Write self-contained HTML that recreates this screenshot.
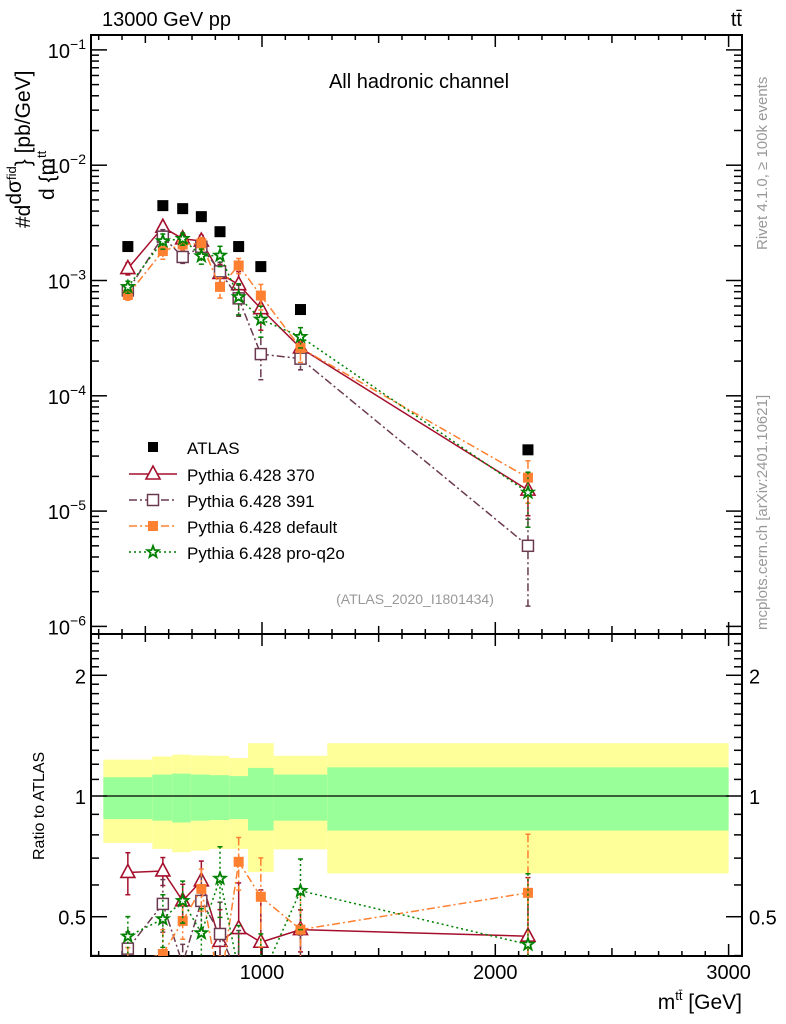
<!DOCTYPE html>
<html><head><meta charset="utf-8"><style>
html,body{margin:0;padding:0;background:#fff;width:786px;height:1024px;overflow:hidden;}
svg{display:block;font-family:"Liberation Sans",sans-serif;}
</style></head><body>
<svg id="c" width="786" height="1024" viewBox="0 0 786 1024">
<text x="102" y="26" font-size="20">13000 GeV pp</text>
<text x="742" y="26" font-size="20" text-anchor="end">tt̄</text>
<text x="419" y="88" font-size="20" text-anchor="middle">All hadronic channel</text>
<text x="415" y="604" font-size="14" fill="#999" text-anchor="middle">(ATLAS_2020_I1801434)</text>
<text transform="translate(767,250) rotate(-90)" font-size="15" fill="#999">Rivet 4.1.0, ≥ 100k events</text>
<text transform="translate(767,630) rotate(-90)" font-size="15" fill="#999">mcplots.cern.ch [arXiv:2401.10621]</text>
<text transform="translate(30,228) rotate(-90)" font-size="21">#d<tspan dy="-9">dσ<tspan font-size="13" dy="-5">fid</tspan></tspan><tspan dy="14">} [pb/GeV]</tspan></text>
<text transform="translate(54,200) rotate(-90)" font-size="21">d {m<tspan font-size="13" dy="-8">tt</tspan></text>
<text transform="translate(44,860) rotate(-90)" font-size="16">Ratio to ATLAS</text>
<text x="742" y="1009" font-size="21" text-anchor="end">m<tspan font-size="13" dy="-9">tt̄</tspan><tspan dy="9"> [GeV]</tspan></text>
</svg>
<script>
const binEdges=[320,530,615,695,775,860,940,1050,1280,3000];
const xCenters=[425,575,660,740,820,900,995,1165,2140];
const atlas=[1.97e-3,4.46e-3,4.2e-3,3.58e-3,2.65e-3,1.97e-3,1.32e-3,5.6e-4,3.4e-5];
const p370=[1.27e-3,2.9e-3,2.3e-3,2.2e-3,1.15e-3,9.2e-4,5.7e-4,2.6e-4,1.52e-5];
const p391=[8.2e-4,2.4e-3,1.6e-3,1.96e-3,1.2e-3,7e-4,2.3e-4,2.1e-4,5e-6];
const pdef=[7.5e-4,1.8e-3,2.05e-3,2.1e-3,8.8e-4,1.35e-3,7.4e-4,2.6e-4,1.95e-5];
const pq2o=[8.8e-4,2.2e-3,2.3e-3,1.63e-3,1.65e-3,7.2e-4,4.6e-4,3.25e-4,1.45e-5];
const e370=[0.12,0.08,0.1,0.12,0.2,0.3,0.35,0.12,0.4];
const e391=[0.1,0.15,0.12,0.15,0.2,0.3,0.4,0.2,0.7];
const edef=[0.1,0.15,0.1,0.12,0.2,0.15,0.25,0.25,0.4];
const eq2o=[0.12,0.15,0.12,0.15,0.2,0.3,0.3,0.2,0.5];
const yelUp=[1.232,1.255,1.268,1.262,1.26,1.243,1.354,1.26,1.354];
const grnUp=[1.114,1.131,1.137,1.131,1.127,1.121,1.175,1.131,1.179];
const grnLo=[0.876,0.868,0.859,0.868,0.871,0.876,0.82,0.868,0.82];
const yelLo=[0.764,0.738,0.724,0.731,0.738,0.738,0.646,0.736,0.641];
const mainTicks=["10","10","10","10","10","10"];
const mainExp=[-1,-2,-3,-4,-5,-6];
const xTickLabels=[1000,2000,3000];
const ratioTicks=[0.5,1,2];

const NS="http://www.w3.org/2000/svg";
const svg=document.getElementById('c');
const L=91,R=742,T=35,MB=634,RB=956;
const X=v=>262+(v-1000)*0.2333;
const Y=v=>280.5-115.3*Math.log10(v/1e-3);
const RY=r=>796-401*Math.log10(r);
function el(tag,attrs,parent){const e=document.createElementNS(NS,tag);for(const k in attrs)e.setAttribute(k,attrs[k]);(parent||svg).appendChild(e);return e;}
function txt(s,x,y,attrs,parent){const e=el('text',Object.assign({x:x,y:y,'font-size':18},attrs||{}),parent);e.textContent=s;return e;}
function clipSeg(x1,y1,x2,y2,ymin,ymax){
  if((y1<ymin&&y2<ymin)||(y1>ymax&&y2>ymax))return null;
  const f=(yt)=>x1+(x2-x1)*(yt-y1)/(y2-y1);
  if(y1<ymin){x1=f(ymin);y1=ymin;} else if(y1>ymax){x1=f(ymax);y1=ymax;}
  if(y2<ymin){x2=x1+(x2-x1)*0+((x2-x1));}
  return [x1,y1,x2,y2];
}
function clipLine(x1,y1,x2,y2,ymin,ymax){
  if((y1<ymin&&y2<ymin)||(y1>ymax&&y2>ymax))return null;
  const ix=(yt)=>x1+(x2-x1)*(yt-y1)/(y2-y1);
  let a=[x1,y1],b=[x2,y2];
  if(y1<ymin)a=[ix(ymin),ymin]; else if(y1>ymax)a=[ix(ymax),ymax];
  if(y2<ymin)b=[ix(ymin),ymin]; else if(y2>ymax)b=[ix(ymax),ymax];
  return [a[0],a[1],b[0],b[1]];
}

const defs=el('defs',{});
const cm=el('clipPath',{id:'cm'},defs);el('rect',{x:L,y:T,width:R-L,height:MB-T},cm);
const cr=el('clipPath',{id:'cr'},defs);el('rect',{x:L,y:MB,width:R-L,height:RB-MB},cr);

const gb=el('g',{'clip-path':'url(#cr)'});

for(let i=0;i<xCenters.length;i++){
  const x0=X(binEdges[i]),x1=X(binEdges[i+1]);
  const r1=el('rect',{x:x0,y:RY(yelUp[i]),width:x1-x0,height:RY(yelLo[i])-RY(yelUp[i]),fill:'#ffff99'},gb);
  
  const r2=el('rect',{x:x0,y:RY(grnUp[i]),width:x1-x0,height:RY(grnLo[i])-RY(grnUp[i]),fill:'#99ff99'},gb);
  
}
el('line',{x1:X(320),x2:X(3000),y1:RY(1),y2:RY(1),stroke:'#000','stroke-width':1.2},gb);

el('rect',{x:L,y:T,width:R-L,height:MB-T,fill:'none',stroke:'#000','stroke-width':2});
el('rect',{x:L,y:MB,width:R-L,height:RB-MB,fill:'none',stroke:'#000','stroke-width':2});

const tg=el('g',{stroke:'#000','stroke-width':1.5});
for(let v=300;v<=3000;v+=100){
  const x=X(v);const big=v%500===0;const len=v%1000===0?12:(big?8:5);
  [[MB,-1],[T,1],[RB,-1],[MB,1]].forEach(([y,d])=>el('line',{x1:x,x2:x,y1:y,y2:y+d*len},tg));
}
xTickLabels.forEach(v=>{const t=txt(String(v),X(v),979,{'text-anchor':'middle','font-size':20});});

for(let d=-6;d<=-1;d++){
  for(let m=1;m<=9;m++){
    const v=m*Math.pow(10,d);const y=Y(v);if(y<T||y>MB)continue;
    const len=m===1?16:8;
    el('line',{x1:L,x2:L+len,y1:y,y2:y},tg);el('line',{x1:R,x2:R-len,y1:y,y2:y},tg);
  }
}
mainExp.forEach((e,i)=>{const y=Y(Math.pow(10,e));const t=el('text',{x:86,y:y+8,'text-anchor':'end','font-size':20});
  
  const a=el('tspan',{},t);a.textContent=mainTicks[i];const b=el('tspan',{dy:-9,'font-size':14},t);b.textContent='\u2212'+(-e);});

for(let v=0.4;v<=2.5;v+=0.1){const y=RY(v);if(y<MB||y>RB)continue;
  const major=[0.5,1,2].some(q=>Math.abs(q-v)<1e-6);const len=major?16:8;
  el('line',{x1:L,x2:L+len,y1:y,y2:y},tg);el('line',{x1:R,x2:R-len,y1:y,y2:y},tg);}
ratioTicks.forEach(v=>{const y=RY(v)+8;
  const a=txt(String(v),86,y,{'text-anchor':'end','font-size':20});
  const b=txt(String(v),749,y,{'font-size':20});});

const series=[
 {name:'series-370',vals:p370,err:e370,color:'#a50f2c',dash:'',mk:'tri'},
 {name:'series-391',vals:p391,err:e391,color:'#6b3a50',dash:'8,3,2,3',mk:'sq'},
 {name:'series-default',vals:pdef,err:edef,color:'#ff8030',dash:'8,3,2,3',mk:'fsq'},
 {name:'series-pro-q2o',vals:pq2o,err:eq2o,color:'#008000',dash:'2,3',mk:'star'}];
function marker(kind,x,y,c,g){
  if(kind==='tri')return el('polygon',{points:`${x},${y-8} ${x-7},${y+5} ${x+7},${y+5}`,fill:'#fff',stroke:c,'stroke-width':1.6},g);
  if(kind==='sq')return el('rect',{x:x-5.5,y:y-5.5,width:11,height:11,fill:'#fff',stroke:c,'stroke-width':1.5},g);
  if(kind==='fsq')return el('rect',{x:x-5,y:y-5,width:10,height:10,fill:c},g);
  if(kind==='star'){let p=[];for(let k=0;k<10;k++){const r=k%2?2.5:6;const a=-Math.PI/2+k*Math.PI/5;p.push((x+r*Math.cos(a)).toFixed(1)+','+(y+r*Math.sin(a)).toFixed(1));}
    return el('polygon',{points:p.join(' '),fill:'#fff',stroke:c,'stroke-width':1.8},g);}
}
function drawSeries(s,ratio){
  const g=el('g',{'clip-path':ratio?'url(#cr)':'url(#cm)'});
  
  const fy=ratio?(v,i)=>RY(v/atlas[i]):(v,i)=>Y(v);
  const ymin=ratio?MB-2:T-2, ymax=ratio?RB+2:MB+2;
  for(let i=0;i+1<s.vals.length;i++){
    const c=clipLine(X(xCenters[i]),fy(s.vals[i],i),X(xCenters[i+1]),fy(s.vals[i+1],i+1),ymin,ymax);
    if(c)el('line',{x1:c[0],y1:c[1],x2:c[2],y2:c[3],stroke:s.color,'stroke-width':1.5,'stroke-dasharray':s.dash},g);
  }
  s.vals.forEach((v,i)=>{const x=X(xCenters[i]);
    let y1=fy(v*(1+s.err[i]),i),y2=fy(Math.max(v*(1-s.err[i]),1e-9),i);
    const ok1=y1>=ymin&&y1<=ymax, ok2=y2>=ymin&&y2<=ymax;
    const cy1=Math.min(Math.max(y1,ymin),ymax), cy2=Math.min(Math.max(y2,ymin),ymax);
    if(cy1!==cy2)el('line',{x1:x,x2:x,y1:cy1,y2:cy2,stroke:s.color,'stroke-width':1.5,'stroke-dasharray':s.dash},g);
    if(ok1)el('line',{x1:x-2.5,x2:x+2.5,y1:y1,y2:y1,stroke:s.color,'stroke-width':1.5},g);
    if(ok2)el('line',{x1:x-2.5,x2:x+2.5,y1:y2,y2:y2,stroke:s.color,'stroke-width':1.5},g);
    const yc=fy(v,i);
    if(yc>=ymin-8&&yc<=ymax+8){const m=marker(s.mk,x,yc,s.color,g);}});
}
const ga=el('g',{'clip-path':'url(#cm)'});

atlas.forEach((v,i)=>{const r=el('rect',{x:X(xCenters[i])-5.5,y:Y(v)-5.5,width:11,height:11,fill:'#000'},ga);
  });
series.forEach(s=>{drawSeries(s,false);drawSeries(s,true);});

const lg=el('g',{});
el('rect',{x:148,y:442,width:10,height:10,fill:'#000'},lg);txt('ATLAS',187,454,{'font-size':17},lg);
const labels=['Pythia 6.428 370','Pythia 6.428 391','Pythia 6.428 default','Pythia 6.428 pro-q2o'];
series.forEach((s,i)=>{const y=474+i*26;
  el('line',{x1:129,x2:177,y1:y,y2:y,stroke:s.color,'stroke-width':1.5,'stroke-dasharray':s.dash},lg);
  marker(s.mk,153,y,s.color,lg);
  const t=txt(labels[i],187,y+7,{'font-size':17},lg);});
</script>
</body></html>
